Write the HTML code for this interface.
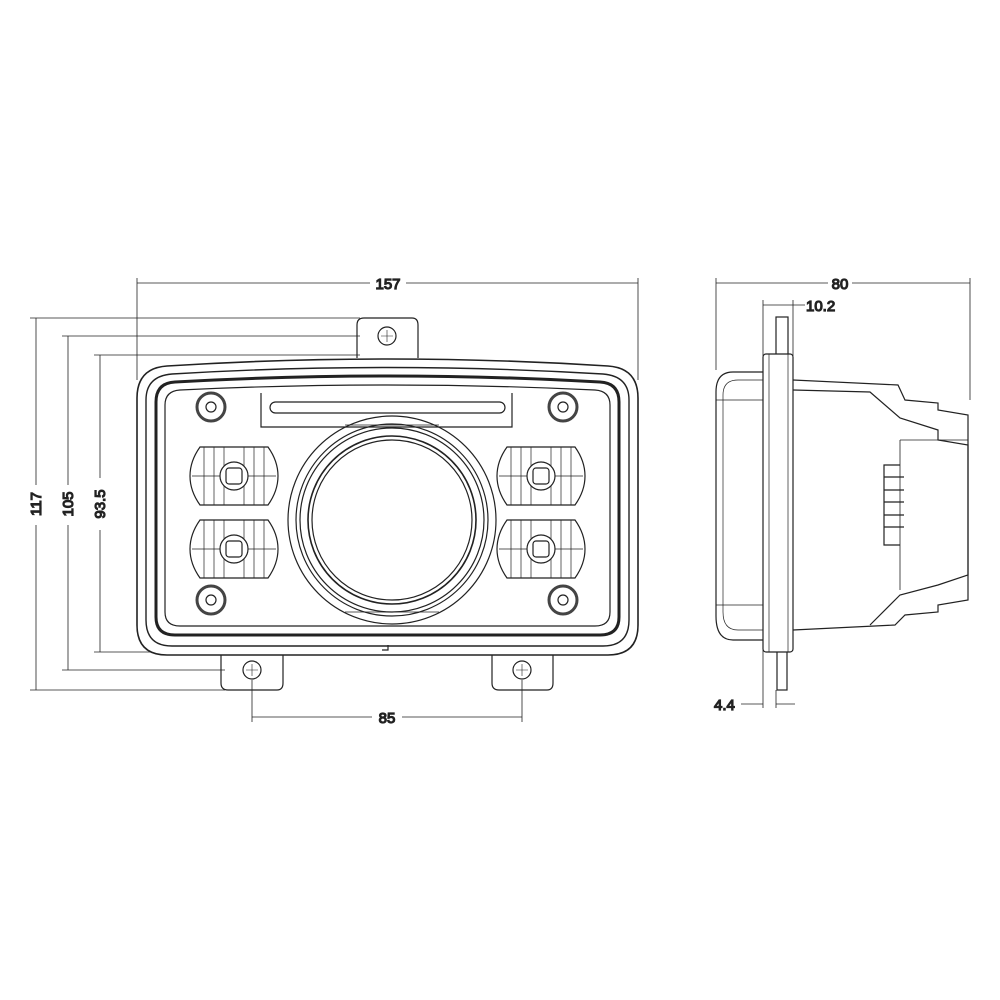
<!DOCTYPE html>
<html><head><style>body{margin:0;background:#fff}svg{display:block}text{font-family:"Liberation Sans",sans-serif;font-size:15px;fill:#222}</style></head><body>
<svg width="1000" height="1000" viewBox="0 0 1000 1000" fill="none" stroke="#222" stroke-width="1.2">
<!-- dimension lines -->
<g stroke-width="0.8">
<line x1="137" y1="283" x2="638" y2="283"/><line x1="137" y1="278" x2="137" y2="380"/><line x1="638" y1="278" x2="638" y2="380"/>
<line x1="30" y1="318" x2="360" y2="318"/><line x1="30" y1="690" x2="225" y2="690"/><line x1="36" y1="318" x2="36" y2="690"/>
<line x1="62" y1="336" x2="360" y2="336"/><line x1="62" y1="670" x2="225" y2="670"/><line x1="68" y1="336" x2="68" y2="670"/>
<line x1="94" y1="355" x2="360" y2="355"/><line x1="94" y1="652" x2="225" y2="652"/><line x1="100" y1="355" x2="100" y2="652"/>
<line x1="252" y1="717" x2="522" y2="717"/><line x1="252" y1="680" x2="252" y2="722"/><line x1="522" y1="680" x2="522" y2="722"/>
<line x1="716" y1="283" x2="970" y2="283"/><line x1="716" y1="278" x2="716" y2="370"/><line x1="970" y1="278" x2="970" y2="400"/>
<line x1="763" y1="305" x2="805" y2="305"/><line x1="763" y1="300" x2="763" y2="356"/><line x1="793" y1="300" x2="793" y2="356"/>
<line x1="741" y1="704" x2="763" y2="704"/><line x1="776" y1="704" x2="795" y2="704"/><line x1="763" y1="650" x2="763" y2="708"/><line x1="776" y1="690" x2="776" y2="708"/>
</g>
<g fill="#fff" stroke="none">
<rect x="370" y="274" width="36" height="18"/><rect x="828" y="274" width="24" height="18"/><rect x="28" y="485" width="16" height="40"/><rect x="60" y="485" width="16" height="40"/><rect x="92" y="478" width="16" height="52"/><rect x="372" y="708" width="30" height="18"/>
</g>
<text x="388" y="289" text-anchor="middle">157</text>
<text x="840" y="289" text-anchor="middle">80</text>
<text x="806" y="311">10.2</text>
<text x="714" y="710">4.4</text>
<text x="387" y="723" text-anchor="middle">85</text>
<text transform="translate(41,504) rotate(-90)" text-anchor="middle">117</text>
<text transform="translate(73,504) rotate(-90)" text-anchor="middle">105</text>
<text transform="translate(105,504) rotate(-90)" text-anchor="middle">93.5</text>
<!-- tabs -->
<path d="M357 358V325Q357 318 364 318H412Q418 318 418 325V358"/>
<circle cx="387" cy="336" r="9"/><path d="M387 330v12M381 336h12" stroke-width="0.6"/>
<path d="M221 650V683Q221 690 228 690H277Q283 690 283 683V650"/>
<circle cx="252" cy="670" r="9"/><path d="M252 664v12M246 670h12" stroke-width="0.6"/>
<path d="M492 650V683Q492 690 499 690H547Q553 690 553 683V650"/>
<circle cx="522" cy="670" r="9"/><path d="M522 664v12M516 670h12" stroke-width="0.6"/>
<!-- housing -->
<path d="M167 366Q387 352 608 366Q638 368 638 398V625Q638 655 608 655H167Q137 655 137 625V398Q137 368 167 366Z" fill="#fff" stroke-width="1.6"/>
<path d="M172 374Q387 361 603 374Q629 376 629 400V620Q629 646 603 646H172Q146 646 146 620V400Q146 376 172 374Z" stroke-width="1.4"/>
<path d="M175 382Q387 370 600 382Q619 383 619 402V617Q619 635 600 635H175Q156 635 156 617V402Q156 383 175 382Z" stroke-width="3"/>
<path d="M180 390Q387 380 595 390Q610 391 610 405V612Q610 626 595 626H180Q165 626 165 612V405Q165 391 180 390Z"/>
<path d="M388 645v5h-6"/>
<!-- top bar -->
<path d="M261 393V427H512V393"/>
<rect x="270" y="402" width="235" height="11" rx="5.5"/>
<!-- screws -->
<g stroke-width="3" stroke="#444"><circle cx="211" cy="407" r="14"/><circle cx="563" cy="407" r="14"/><circle cx="211" cy="600" r="14"/><circle cx="563" cy="600" r="14"/></g>
<g><circle cx="211" cy="407" r="5"/><circle cx="563" cy="407" r="5"/><circle cx="211" cy="600" r="5"/><circle cx="563" cy="600" r="5"/></g>
<!-- lens -->
<circle cx="392" cy="520" r="104"/><circle cx="392" cy="520" r="96"/><circle cx="392" cy="520" r="92"/>
<circle cx="392" cy="520" r="84" stroke-width="1.6"/><circle cx="392" cy="520" r="80"/>
<path d="M345 612h94M345 425h94" stroke-width="0.8"/>
<!-- LED modules -->
<defs><g id="m"><path d="M10 0H78Q88 14 88 29Q88 44 78 58H10Q0 44 0 29Q0 14 10 0Z"/><path d="M14 0v58M24 0v58M34 0v58M54 0v58M64 0v58M74 0v58M2 29h84" stroke-width="0.7"/><circle cx="44" cy="29" r="14" fill="#fff"/><rect x="36" y="21" width="16" height="16" rx="3"/></g></defs>
<use href="#m" x="190" y="447"/><use href="#m" x="190" y="520"/><use href="#m" x="497" y="447"/><use href="#m" x="497" y="520"/>
<!-- side view -->
<rect x="776" y="317" width="12" height="40"/><rect x="777" y="650" width="10" height="40"/>
<path d="M763 372H733Q716 372 716 392V616Q716 640 733 640H763"/>
<path d="M763 380H738Q723 380 723 395V612Q723 630 738 630H763M716 400h47M716 605h47" stroke-width="0.7"/>
<rect x="763" y="354" width="30" height="298" rx="3" fill="#fff"/>
<path d="M769 354v298M788 354v298" stroke-width="0.7"/>
<path d="M793 380L898 385L905 400L938 403V410L968 415V600L938 605V612L905 615L895 625L793 630"/>
<path d="M793 390L870 392L900 418L938 430V440L968 445V575L938 585L900 595L870 625"/>
<path d="M900 440V590M900 440H968" stroke-width="0.8"/>
<path d="M900 465H884V545H900M884 477h20M884 490h20M884 502h20M884 515h20M884 527h20" />
</svg>
</body></html>
